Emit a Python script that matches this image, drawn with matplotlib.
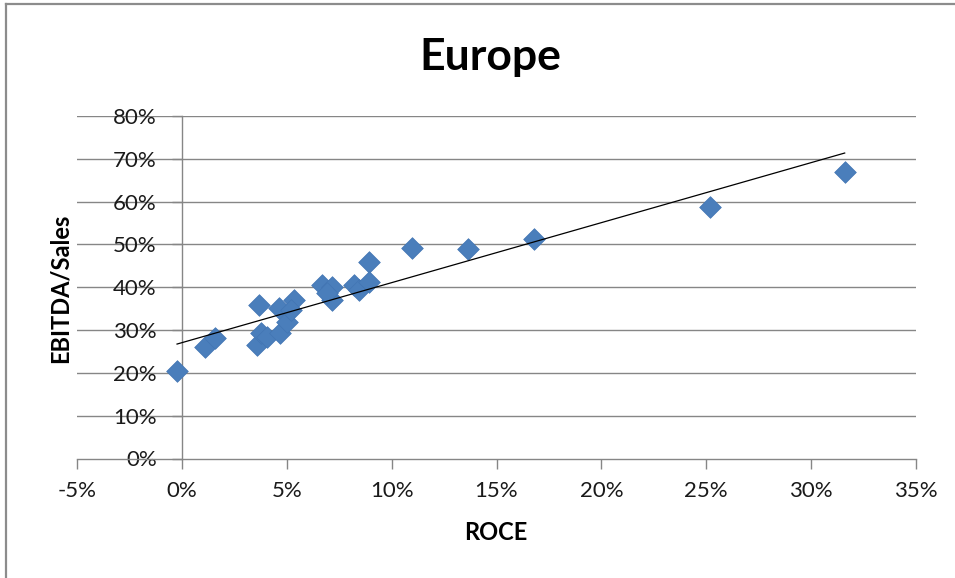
import numpy as np
import matplotlib
matplotlib.use("Agg")
import matplotlib.pyplot as plt
from matplotlib.ticker import FuncFormatter, MultipleLocator
from matplotlib.lines import Line2D

plt.rcParams['font.family'] = ['Lato', 'DejaVu Sans']

# ROCE (%) and EBITDA/Sales (%) for European companies
roce = [-0.23, 1.12, 1.6, 3.67, 3.59, 3.75, 4.07, 4.62, 4.70, 5.02, 5.34, 5.2,
        6.69, 7.17, 7.17, 6.9, 8.2, 8.44, 8.92, 8.92,
        10.96, 13.63, 16.8, 25.2, 31.6]
ebitda_sales = [20.4, 26.1, 28.2, 35.8, 26.5, 29.2, 28.4, 35.1, 29.2, 31.9, 37.0, 34.7,
                40.5, 40.1, 37.0, 38.6, 40.5, 39.3, 46.0, 41.3,
                49.2, 48.9, 51.3, 58.8, 67.0]

title = "Europe"
x_label = "ROCE"
y_label = "EBITDA/Sales"

W, H = 955, 578
fig = plt.figure(figsize=(W / 100, H / 100), dpi=100)
ax = fig.add_axes([77 / W, 1 - 458.5 / H, (916 - 77) / W, (458.5 - 116) / H])

grid_c = '#868686'
blue = '#4A7EBB'

x = np.array(roce)
y = np.array(ebitda_sales)
ax.scatter(x, y, marker='D', s=122, color=blue, edgecolor='#4275B3', linewidth=0.5, zorder=3)

# linear trend line over the data range
k, b = np.polyfit(x, y, 1)
xs = np.array([x.min(), x.max()])
ax.plot(xs, k * xs + b, color='black', lw=0.9, zorder=4)

ax.set_xlim(-5, 35)
ax.set_ylim(0, 80)
ax.xaxis.set_major_locator(MultipleLocator(5))
ax.yaxis.set_major_locator(MultipleLocator(10))
pct = FuncFormatter(lambda v, _: f"{v:.0f}%".replace('\u2212', '-'))
ax.xaxis.set_major_formatter(pct)
ax.yaxis.set_major_formatter(pct)

for yy in range(10, 81, 10):
    ax.axhline(yy, color=grid_c, lw=1.0, zorder=1)

ax.spines['top'].set_visible(False)
ax.spines['right'].set_visible(False)
ax.spines['left'].set_position(('data', 0))
ax.spines['left'].set_color(grid_c)
ax.spines['bottom'].set_color(grid_c)
ax.spines['left'].set_linewidth(1.0)
ax.spines['bottom'].set_linewidth(1.0)
ax.tick_params(axis='both', direction='out', length=7, width=1.0, color=grid_c,
               labelsize=16, labelcolor='#1a1a1a')
ax.tick_params(axis='x', pad=9)
ax.tick_params(axis='y', pad=11)

fig.text(490 / W, 1 - 57 / H, title, ha='center', va='center', fontsize=32, fontweight='bold')
fig.text(496 / W, 1 - 533 / H, x_label, ha='center', va='center', fontsize=17, fontweight='bold')
fig.text(60 / W, 1 - 288 / H, y_label, ha='center', va='center', fontsize=17,
         fontweight='bold', rotation=90)

# chart area frame (top and left edges)
frame_c = '#8C8C8C'
fig.lines.append(Line2D([6 / W, 1.0], [1 - 4 / H, 1 - 4 / H], transform=fig.transFigure,
                        color=frame_c, lw=1.6))
fig.lines.append(Line2D([6 / W, 6 / W], [1 - 4 / H, 0.0], transform=fig.transFigure,
                        color=frame_c, lw=1.6))

fig.savefig('out.png', dpi=100)
